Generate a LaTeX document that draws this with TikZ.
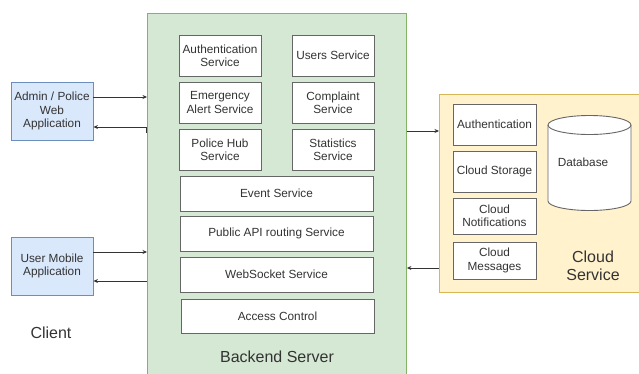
\documentclass[tikz,border=0pt]{standalone}
\usepackage{fontspec}
\setmainfont{Liberation Sans}
\usetikzlibrary{arrows.meta}
\definecolor{txt}{HTML}{333333}
\definecolor{gfill}{HTML}{D5E8D4}
\definecolor{gline}{HTML}{82B366}
\definecolor{bfill}{HTML}{DAE8FC}
\definecolor{bline}{HTML}{6C8EBF}
\definecolor{yfill}{HTML}{FFF2CC}
\definecolor{yline}{HTML}{D6B656}
\definecolor{boxline}{HTML}{666666}
\tikzset{
  svc/.style={draw=boxline, fill=white, line width=0.9pt, inner sep=0pt, align=center, text=txt,
    font=\fontsize{11.8}{13.3}\selectfont},
  client/.style={draw=bline, fill=bfill, line width=0.9pt, inner sep=0pt, align=center, text=txt,
    font=\fontsize{11.8}{13.3}\selectfont, minimum width=82pt},
  biglabel/.style={text=txt, align=center, inner sep=0pt, font=\fontsize{16}{18.5}\selectfont},
  arr/.style={draw=txt, line width=0.8pt, -{Stealth[length=4.5pt,width=4pt]}}
}
\begin{document}
\begin{tikzpicture}[x=1pt,y=-1pt]
\useasboundingbox (0,0) rectangle (639,373);
% backend container
\node[draw=gline, fill=gfill, line width=0.9pt, minimum width=259pt, minimum height=370pt,
  anchor=north west, inner sep=0pt] (backend) at (147,13) {};
\node[biglabel] (backlabel) at (277,357) {Backend Server};
% services
\node[svc, minimum width=82pt, minimum height=41pt] (authsvc) at (220,55.5) {Authentication\\Service};
\node[svc, minimum width=82pt, minimum height=41pt] (users) at (333,55.5) {Users Service};
\node[svc, minimum width=82pt, minimum height=41pt] (emerg) at (220,102.5) {Emergency\\Alert Service};
\node[svc, minimum width=82pt, minimum height=41pt] (complaint) at (333,102.5) {Complaint\\Service};
\node[svc, minimum width=82pt, minimum height=41pt] (police) at (220,149.5) {Police Hub\\Service};
\node[svc, minimum width=82pt, minimum height=41pt] (stats) at (333,149.5) {Statistics\\Service};
\node[svc, minimum width=193pt, minimum height=35pt] (event) at (276.5,193.5) {Event Service};
\node[svc, minimum width=193pt, minimum height=35pt] (api) at (276.5,233.5) {Public API routing Service};
\node[svc, minimum width=193pt, minimum height=35pt] (ws) at (276.5,274.5) {WebSocket Service};
\node[svc, minimum width=193pt, minimum height=34pt] (access) at (277.5,316) {Access Control};
% clients
\node[client, minimum height=58pt] (admin) at (52,111) {Admin / Police\\Web\\Application};
\node[client, minimum height=58pt] (mobile) at (52,266) {User Mobile\\Application};
\node[biglabel] (clientlabel) at (51,333) {Client};
% cloud
\node[draw=yline, fill=yfill, line width=0.9pt, minimum width=210pt, minimum height=198pt,
  anchor=north west, inner sep=0pt] (cloud) at (439,94) {};
\node[svc, minimum width=83pt, minimum height=41pt] (cauth) at (494.5,124.5) {Authentication};
\node[svc, minimum width=83pt, minimum height=41pt] (cstore) at (494.5,171.5) {Cloud Storage};
\node[svc, minimum width=83pt, minimum height=36pt] (cnotif) at (494.5,216) {Cloud\\Notifications};
\node[svc, minimum width=83pt, minimum height=37pt] (cmsg) at (494.5,260.5) {Cloud\\Messages};
% database cylinder
\draw[draw=boxline, fill=white, line width=0.9pt] (548,125) -- (548,201)
  arc[start angle=180, end angle=360, x radius=41.5pt, y radius=9.5pt] -- (631,125)
  arc[start angle=0, end angle=180, x radius=41.5pt, y radius=9.5pt] -- cycle;
\draw[draw=boxline, line width=0.9pt] (548,125) arc[start angle=180, end angle=360, x radius=41.5pt, y radius=9.5pt];
\node[text=txt, font=\fontsize{11.8}{13.3}\selectfont, inner sep=0pt] (db) at (583,162) {Database};
\node[biglabel] (cloudlabel) at (593,266) {Cloud\\Service};
% connectors
\draw[arr] (admin.east |- 0,97) -- (backend.west |- 0,97);
\draw[arr] (146,133) -- (146,127) -- (admin.east |- 0,127);
\draw[arr] (mobile.east |- 0,252) -- (backend.west |- 0,252);
\draw[arr] (backend.west |- 0,281) -- (mobile.east |- 0,281);
\draw[arr] (backend.east |- 0,131) -- (cloud.west |- 0,131);
\draw[arr] (cloud.west |- 0,268) -- (backend.east |- 0,268);
\end{tikzpicture}
\end{document}
